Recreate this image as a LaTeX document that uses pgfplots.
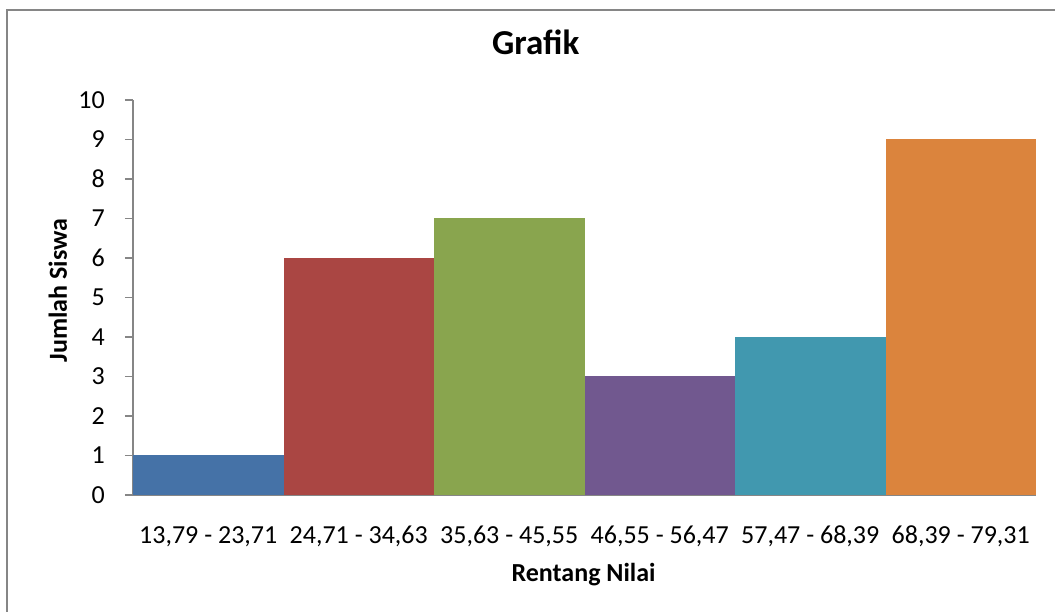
\documentclass[border=0pt]{standalone}
\usepackage{fontspec}
\setmainfont{Carlito}
\usepackage{pgfplots}
\pgfplotsset{compat=1.18}

\definecolor{axisgray}{HTML}{868686}
\definecolor{c1}{HTML}{4572A7}
\definecolor{c2}{HTML}{AA4643}
\definecolor{c3}{HTML}{89A54E}
\definecolor{c4}{HTML}{71588F}
\definecolor{c5}{HTML}{4198AF}
\definecolor{c6}{HTML}{DB843D}

\begin{document}
\begin{tikzpicture}[x=1pt,y=1pt]
\useasboundingbox (0,0) rectangle (1055,612);
% chart frame
\begin{scope}
  \clip (0,0) rectangle (1055,612);
  \draw[axisgray, line width=2pt] (7,-20) -- (7,602) -- (1090,602);
\end{scope}
\begin{axis}[
  at={(133pt,117pt)}, anchor=south west,
  scale only axis, width=903pt, height=395pt,
  xmin=-0.5, xmax=5.5, ymin=0, ymax=10,
  axis lines*=left,
  axis line style={axisgray, line width=1.5pt},
  xtick={0,...,5},
  xticklabels={{13,79 - 23,71},{24,71 - 34,63},{35,63 - 45,55},{46,55 - 56,47},{57,47 - 68,39},{68,39 - 79,31}},
  ytick={0,...,10},
  tick align=outside,
  major tick length=8pt,
  y tick style={axisgray, line width=1.5pt},
  x tick style={draw=none},
  /pgf/number format/assume math mode=true,
  tick label style={font=\fontsize{26}{31}\selectfont},
  xticklabel style={anchor=base, inner sep=0pt, yshift=-41pt},
  yticklabel style={anchor=east, inner sep=0pt, xshift=-20pt},
  title={Grafik},
  title style={at={(axis description cs:0.446,1.101)}, anchor=base, inner sep=0pt,
    font=\fontsize{35}{40}\selectfont\bfseries},
  xlabel={Rentang Nilai},
  xlabel style={at={(axis description cs:0.499,-0.220)}, anchor=base, inner sep=0pt,
    font=\fontsize{26}{31}\selectfont\bfseries},
  ylabel={Jumlah Siswa},
  ylabel style={at={(axis description cs:-0.0731,0.518)}, anchor=base, inner sep=0pt,
    font=\fontsize{26}{31}\selectfont\bfseries},
  ybar, bar width=1, bar shift=0pt,
  every axis plot/.append style={draw=none},
]
\addplot[fill=c1] coordinates {(0,1)};
\addplot[fill=c2] coordinates {(1,6)};
\addplot[fill=c3] coordinates {(2,7)};
\addplot[fill=c4] coordinates {(3,3)};
\addplot[fill=c5] coordinates {(4,4)};
\addplot[fill=c6] coordinates {(5,9)};
\end{axis}
\end{tikzpicture}
\end{document}
